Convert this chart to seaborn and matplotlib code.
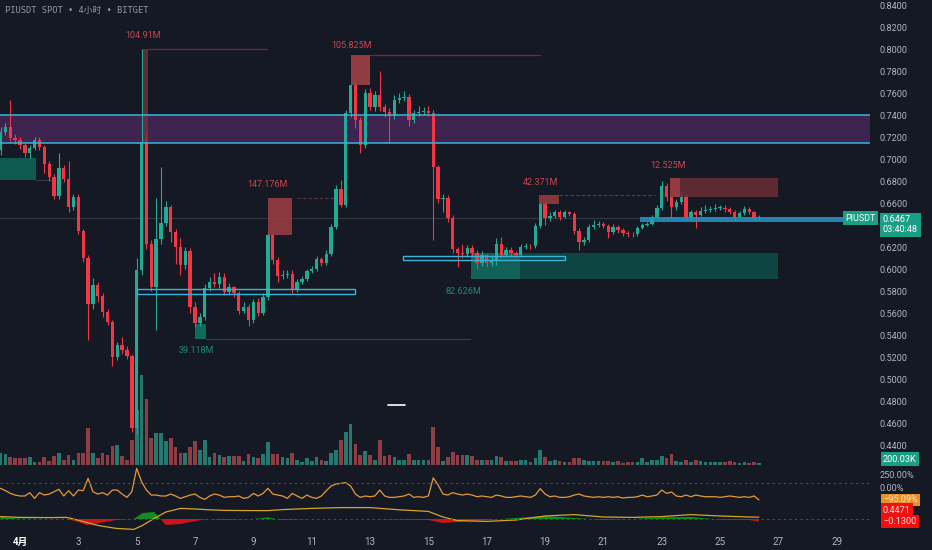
import numpy as np
import matplotlib
matplotlib.use("Agg")
import matplotlib.pyplot as plt
import matplotlib.transforms as mtransforms
from matplotlib.patches import Rectangle
import seaborn as sns

# ===========================================================
# Data (4h candles, first one at Mar 31 08:00; day 1 = Apr 1)
# ===========================================================

first_open = 0.7082

close = [
    0.7245, 0.7291, 0.7191, 0.7173, 0.7127, 0.7055, 0.7100, 0.7173, 0.7109, 0.6955,
    0.6836, 0.6664, 0.6918, 0.6818, 0.6564, 0.6655, 0.6345, 0.6100, 0.5682, 0.5855,
    0.5755, 0.5609, 0.5518, 0.5200, 0.5309, 0.5264, 0.5209, 0.4555, 0.5991, 0.7155,
    0.6227, 0.5836, 0.6273, 0.6418, 0.6564, 0.6336, 0.6200, 0.6036, 0.6164, 0.5655,
    0.5509, 0.5564, 0.5827, 0.5882, 0.5864, 0.5927, 0.5791, 0.5836, 0.5782, 0.5618,
    0.5655, 0.5536, 0.5700, 0.5600, 0.5745, 0.6309, 0.6082, 0.5936, 0.5945, 0.5955,
    0.5809, 0.5882, 0.5909, 0.5982, 0.6000, 0.6091, 0.6055, 0.6136, 0.6382, 0.6727,
    0.6582, 0.7418, 0.7673, 0.7355, 0.7127, 0.7600, 0.7473, 0.7582, 0.7473, 0.7427,
    0.7391, 0.7536, 0.7555, 0.7564, 0.7355, 0.7418, 0.7427, 0.7436, 0.7418, 0.6927,
    0.6636, 0.6645, 0.6464, 0.6182, 0.6145, 0.6136, 0.6191, 0.6145, 0.6055, 0.6127,
    0.6055, 0.6073, 0.6227, 0.6127, 0.6173, 0.6145, 0.6127, 0.6200, 0.6209, 0.6205,
    0.6391, 0.6591, 0.6464, 0.6482, 0.6518, 0.6473, 0.6518, 0.6500, 0.6345, 0.6245,
    0.6264, 0.6382, 0.6400, 0.6409, 0.6391, 0.6336, 0.6382, 0.6355, 0.6327, 0.6318,
    0.6314, 0.6373, 0.6400, 0.6409, 0.6473, 0.6555, 0.6755, 0.6655, 0.6564, 0.6609,
    0.6655, 0.6473, 0.6518, 0.6491, 0.6527, 0.6536, 0.6545, 0.6555, 0.6559, 0.6545,
    0.6518, 0.6473, 0.6509, 0.6545, 0.6518, 0.6464, 0.6467,
]

high = [
    0.7290, 0.7330, 0.7540, 0.7230, 0.7200, 0.7150, 0.7130, 0.7200, 0.7200, 0.7130,
    0.6980, 0.6860, 0.7055, 0.6950, 0.6980, 0.6680, 0.6680, 0.6360, 0.6130, 0.5920,
    0.5880, 0.5780, 0.5640, 0.5540, 0.5340, 0.5380, 0.5300, 0.5230, 0.6100, 0.8000,
    0.7250, 0.6260, 0.6650, 0.6927, 0.6620, 0.6580, 0.6360, 0.6280, 0.6200, 0.6190,
    0.5700, 0.5600, 0.5860, 0.5930, 0.5960, 0.5970, 0.5960, 0.5870, 0.5850, 0.5800,
    0.5700, 0.5680, 0.5730, 0.5740, 0.5780, 0.6340, 0.6330, 0.6110, 0.5990, 0.5990,
    0.5990, 0.5910, 0.5940, 0.6000, 0.6030, 0.6120, 0.6110, 0.6170, 0.6410, 0.6760,
    0.6810, 0.7450, 0.7700, 0.7700, 0.7380, 0.7640, 0.7650, 0.7620, 0.7800, 0.7500,
    0.7460, 0.7580, 0.7600, 0.7620, 0.7590, 0.7450, 0.7480, 0.7470, 0.7480, 0.7450,
    0.6950, 0.6680, 0.6670, 0.6490, 0.6200, 0.6230, 0.6220, 0.6220, 0.6170, 0.6160,
    0.6140, 0.6120, 0.6280, 0.6290, 0.6200, 0.6200, 0.6160, 0.6230, 0.6240, 0.6230,
    0.6420, 0.6620, 0.6610, 0.6520, 0.6540, 0.6540, 0.6540, 0.6530, 0.6520, 0.6370,
    0.6290, 0.6410, 0.6450, 0.6440, 0.6430, 0.6410, 0.6410, 0.6400, 0.6370, 0.6350,
    0.6340, 0.6390, 0.6420, 0.6430, 0.6490, 0.6580, 0.6800, 0.6780, 0.6680, 0.6640,
    0.6700, 0.6680, 0.6540, 0.6540, 0.6560, 0.6580, 0.6570, 0.6590, 0.6580, 0.6580,
    0.6560, 0.6540, 0.6530, 0.6570, 0.6560, 0.6530, 0.6490,
]

low = [
    0.7040, 0.7220, 0.7160, 0.7140, 0.7090, 0.7020, 0.7010, 0.7080, 0.7080, 0.6870,
    0.6800, 0.6640, 0.6640, 0.6790, 0.6520, 0.6540, 0.6320, 0.6060, 0.5355, 0.5640,
    0.5700, 0.5560, 0.5490, 0.5120, 0.5170, 0.5230, 0.5180, 0.4520, 0.4500, 0.5950,
    0.6180, 0.5800, 0.5445, 0.6230, 0.6390, 0.6250, 0.6050, 0.5950, 0.6000, 0.5600,
    0.5470, 0.5480, 0.5540, 0.5800, 0.5840, 0.5830, 0.5760, 0.5770, 0.5750, 0.5590,
    0.5600, 0.5480, 0.5510, 0.5570, 0.5580, 0.5720, 0.6050, 0.5880, 0.5910, 0.5920,
    0.5780, 0.5790, 0.5860, 0.5890, 0.5960, 0.5980, 0.6030, 0.6040, 0.6120, 0.6360,
    0.6560, 0.6560, 0.7380, 0.7280, 0.7055, 0.7100, 0.7450, 0.7440, 0.7440, 0.7380,
    0.7150, 0.7360, 0.7510, 0.7530, 0.7300, 0.7330, 0.7390, 0.7400, 0.7390, 0.6264,
    0.6600, 0.6520, 0.6430, 0.6150, 0.6020, 0.6100, 0.6110, 0.6110, 0.6000, 0.6030,
    0.6020, 0.6030, 0.6040, 0.6100, 0.6110, 0.6120, 0.6100, 0.6110, 0.6180, 0.6180,
    0.6190, 0.6370, 0.6400, 0.6440, 0.6460, 0.6450, 0.6460, 0.6480, 0.6320, 0.6173,
    0.6220, 0.6250, 0.6360, 0.6380, 0.6370, 0.6280, 0.6320, 0.6330, 0.6300, 0.6290,
    0.6290, 0.6300, 0.6360, 0.6390, 0.6400, 0.6460, 0.6540, 0.6620, 0.6470, 0.6540,
    0.6590, 0.6450, 0.6450, 0.6373, 0.6480, 0.6510, 0.6520, 0.6530, 0.6540, 0.6520,
    0.6500, 0.6450, 0.6460, 0.6490, 0.6500, 0.6450, 0.6450,
]

# volume in millions
volume_m = [
    1.2, 1.1, 0.8, 0.7, 0.7, 0.7, 0.8, 0.3, 0.3, 0.8,
    0.4, 0.9, 1.2, 0.5, 1.0, 0.5, 1.2, 1.2, 3.7, 1.2,
    0.7, 1.2, 1.0, 1.9, 2.0, 0.9, 0.5, 2.5, 5.5, 9.0,
    6.6, 2.7, 3.2, 3.2, 2.4, 2.7, 1.8, 1.2, 1.2, 1.8,
    2.4, 1.5, 2.5, 0.8, 1.2, 1.0, 0.8, 0.9, 0.9, 0.9,
    0.4, 1.1, 0.8, 0.7, 1.1, 2.3, 1.1, 1.1, 0.8, 0.7,
    1.2, 0.5, 0.3, 0.7, 0.4, 0.8, 0.5, 0.4, 1.2, 1.5,
    2.5, 3.3, 4.1, 2.1, 1.0, 1.4, 1.0, 0.5, 2.5, 0.9,
    1.0, 0.8, 0.5, 0.5, 1.1, 0.5, 0.5, 0.5, 0.5, 3.8,
    1.8, 0.4, 0.8, 1.3, 1.0, 1.0, 1.0, 0.9, 0.5, 0.5,
    0.5, 0.5, 0.9, 0.8, 0.4, 0.4, 0.4, 0.5, 0.5, 0.3,
    0.7, 1.5, 0.8, 0.4, 0.5, 0.4, 0.3, 0.3, 0.7, 0.7,
    0.5, 0.4, 0.4, 0.4, 0.4, 0.4, 0.3, 0.4, 0.2, 0.3,
    0.3, 0.3, 0.7, 0.3, 0.5, 0.5, 0.9, 0.7, 1.1, 0.4,
    0.3, 0.5, 0.3, 0.5, 0.4, 0.3, 0.3, 0.3, 0.3, 0.3,
    0.4, 0.3, 0.2, 0.3, 0.2, 0.3, 0.20003,
]

# oscillator (%) per candle
osc_pct = [
    65, 32, -5, -28, -41, -41, 5, -74, 5, -28,
    -14, 18, 51, -41, 32, -41, 41, 32, 202, 18,
    -14, 5, -28, 41, 41, -14, -60, 18, 340, 156,
    41, -28, -28, -41, -41, -14, -41, -74, -51, -28,
    -14, -60, -88, -41, -14, -28, -60, -51, -51, -41,
    -74, -60, -5, -41, -5, 65, -14, -28, -41, -74,
    -5, -41, -74, -28, -60, -74, -41, 32, 97, 124,
    134, 143, 97, -14, -60, -41, -51, -41, 41, -41,
    -60, -60, -51, -41, -14, -60, -51, -60, -41, 210,
    110, -14, -28, 5, -14, -28, -14, -28, -51, -41,
    -51, -60, -28, -41, -60, -60, -51, -41, -51, -60,
    -28, 60, -14, -51, -41, -60, -60, -51, -28, -14,
    -41, -51, -60, -51, -60, -51, -60, -51, -70, -60,
    -60, -51, -28, -51, -41, -28, 41, -5, 14, -41,
    -51, -28, -51, -28, -41, -51, -51, -51, -60, -51,
    -41, -51, -60, -51, -60, -41, -95.09,
]

# MACD pane, sampled by day
ind_day = [0.33, 1, 2, 2.6, 3, 3.3, 3.7, 4.3, 4.9, 5.2, 5.6, 6, 6.5, 7, 7.5, 8, 9,
           9.5, 10, 11, 12, 13, 14, 15, 15.5, 16, 17, 18, 19, 20, 21, 22, 23,
           24, 25, 26, 26.33]
macd = [0.12, 0.08, 0.07, 0.08, -0.06, -0.18, -0.33, -0.47, -0.52, -0.32, 0.03,
        0.35, 0.53, 0.50, 0.46, 0.43, 0.42, 0.42, 0.47, 0.53, 0.57, 0.57, 0.46,
        0.38, 0.10, -0.08, -0.12, -0.05, 0.15, 0.22, 0.10, 0.08, 0.12, 0.22,
        0.15, 0.10, 0.09]
macd_hist = [0.10, 0.02, 0.0, 0.0, -0.15, -0.30, -0.20, -0.05, 0.0, 0.30, 0.35,
             -0.30, -0.25, -0.10, 0.0, -0.05, 0.0, 0.08, -0.05, 0.0, 0.0, 0.0,
             -0.03, -0.05, -0.20, -0.15, -0.05, 0.05, 0.15, 0.05, -0.05, 0.0,
             0.08, 0.10, -0.04, -0.05, -0.13]
macd_last = 0.4471
hist_last = -0.1300

day_ticks = [1, 3, 5, 7, 9, 11, 13, 15, 17, 19, 21, 23, 25, 27, 29]
day_labels = ["4月", "3", "5", "7", "9", "11", "13", "15", "17", "19", "21",
              "23", "25", "27", "29"]

# ===========================================================
# Style
# ===========================================================

BG = "#151924"
UP = "#22ab94"
DOWN = "#f23645"
TXT = "#b2b5be"
CYAN = "#3bb3d8"

sns.set_theme(style="dark", rc={"axes.facecolor": BG, "figure.facecolor": BG})
plt.rcParams["font.family"] = ["Roboto", "Noto Sans CJK SC", "DejaVu Sans"]

W, H = 932, 550


def rect(x0, y0, x1, y1):
    return [x0 / W, 1 - y1 / H, (x1 - x0) / W, (y1 - y0) / H]


fig = plt.figure(figsize=(W / 100, H / 100), dpi=100)
axv = fig.add_axes(rect(0, 0, 870, 465))
ax = fig.add_axes(rect(0, 0, 870, 465), sharex=axv)
ax_osc = fig.add_axes(rect(0, 466, 870, 506), sharex=axv)
ax_macd = fig.add_axes(rect(0, 506, 870, 533), sharex=axv)
ax.patch.set_visible(False)

for a in (axv, ax, ax_osc, ax_macd):
    for s in a.spines.values():
        s.set_visible(False)
    a.tick_params(length=0, colors=TXT, labelsize=6.6)
    a.grid(False)

t = 1 / 3 + np.arange(len(close)) / 6
c = np.array(close)
o = np.array([first_open] + close[:-1])
up = c >= o
ccol = np.where(up, UP, DOWN)
vcol = np.where(up, "#25786e", "#8f3d44")

axv.set_xlim(0.314, 30.14)

# ===========================================================
# Volume (overlay at the bottom of the price pane)
# ===========================================================

axv.bar(t, volume_m, width=0.125, color=vcol, linewidth=0)
axv.set_ylim(0, 46.5)
axv.set_yticks([])
axv.tick_params(labelbottom=False)

# ===========================================================
# Price pane
# ===========================================================

ax.set_ylim(0.42182, 0.84455)
ax.yaxis.tick_right()
# 0.6400 sits under the last-price tag, so it is left out
price_ticks = [v for v in np.arange(0.44, 0.8401, 0.02) if abs(v - 0.64) > 1e-6]
ax.set_yticks(price_ticks)
ax.set_yticklabels([f"{v:.4f}" for v in price_ticks])
ax.tick_params(axis="y", pad=7)
ax.tick_params(labelbottom=False)

# supply zone (purple)
ax.axhspan(0.7141, 0.7400, color="#5b2d6e", alpha=0.6, lw=0, zorder=1)
ax.axhline(0.7400, color=CYAN, lw=1.1, zorder=4)
ax.axhline(0.7141, color=CYAN, lw=1.1, zorder=4)

# current price line
ax.axhline(close[-1], color="#3a3f4c", lw=0.6, zorder=1)


def box(x0, x1, y0, y1, fc, alpha=1.0, ec="none", lw=0, z=3):
    ax.add_patch(Rectangle((x0, y0), x1 - x0, y1 - y0, fc=fc, ec=ec, lw=lw,
                           alpha=alpha, zorder=z))


# teal zones
box(0.314, 1.55, 0.6809, 0.7009, "#0f5a50", z=1)
ax.plot([1.55, 2.1], [0.6809, 0.6809], color="#3a4050", lw=0.7, zorder=1)
box(16.46, 26.99, 0.5909, 0.6145, "#0e4a47", alpha=0.9, z=1)
box(16.46, 18.14, 0.5909, 0.6145, "#12655c", alpha=0.9, z=1)
box(7.0, 7.38, 0.5364, 0.5500, "#0f6b5c", z=1)
ax.plot([7.38, 16.43], [0.5364, 0.5364], color="#2a4a4a", lw=0.8, zorder=1)

# candles
ax.vlines(t, low, high, colors=ccol, lw=0.8, zorder=2)
ax.bar(t, np.maximum(np.abs(c - o), 0.0008), bottom=np.minimum(o, c),
       width=0.115, color=ccol, linewidth=0, zorder=2)

# red order blocks
box(5.22, 5.39, 0.7155, 0.8000, "#7a3238", alpha=0.75)
ax.plot([5.39, 9.47], [0.8, 0.8], color="#6e2c34", lw=0.9, zorder=3)
box(12.35, 13.0, 0.7673, 0.7945, "#9e4044", alpha=0.9)
ax.plot([13.0, 18.83], [0.7945, 0.7945], color="#6e2c34", lw=0.9, zorder=3)
box(9.50, 10.33, 0.6309, 0.6645, "#9e3f42", alpha=0.85)
ax.plot([10.5, 11.8], [0.6645, 0.6645], color="#5a3a40", lw=0.8, ls=(0, (3, 2)),
        zorder=3)
box(18.79, 19.48, 0.6591, 0.6673, "#9a3d40", alpha=0.85)
ax.plot([19.48, 22.77], [0.6673, 0.6673], color="#6a3840", lw=0.8, ls=(0, (3, 2)),
        zorder=3)
box(23.28, 26.99, 0.6655, 0.6827, "#6a2e36", alpha=0.85)
box(23.28, 23.63, 0.6655, 0.6827, "#9a3d42", alpha=0.9)

# demand rectangles (cyan)
box(5.01, 12.48, 0.5773, 0.5818, "none", ec=CYAN, lw=1.0, z=4)
box(14.13, 19.68, 0.6082, 0.6118, "none", ec=CYAN, lw=1.0, z=4)
box(22.25, 29.2, 0.6427, 0.6473, "#2496c4", alpha=0.85, z=4)

# small white mark
ax.plot([13.6, 14.2], [0.4764, 0.4764], color="white", lw=1.2, zorder=4)

red_txt = "#c9474f"
teal_txt = "#1e8a78"
for x, y, s, col in [(5.22, 0.8127, "104.91M", red_txt),
                     (12.38, 0.8036, "105.825M", red_txt),
                     (9.50, 0.6764, "147.176M", red_txt),
                     (18.83, 0.6782, "42.371M", red_txt),
                     (23.21, 0.6945, "12.525M", red_txt),
                     (7.03, 0.5255, "39.118M", teal_txt),
                     (16.19, 0.5800, "82.626M", teal_txt)]:
    ax.text(x, y, s, color=col, fontsize=6.5, ha="center", va="center", zorder=5)

# last price labels
trans = mtransforms.blended_transform_factory(ax.transAxes, ax.transData)
ax.text(1.0069, close[-1] - 0.0005, "PIUSDT", transform=trans, ha="right",
        va="center", fontsize=6.5, color="white", zorder=6, clip_on=False,
        bbox=dict(boxstyle="square,pad=0.25", fc="#1a9e85", ec="none"))
ax.text(1.0149, close[-1] - 0.0065, "0.6467\n03:40:48", transform=trans,
        ha="left", va="center", fontsize=6.6, color="white", linespacing=1.15,
        zorder=6, clip_on=False,
        bbox=dict(boxstyle="square,pad=0.3", fc="#1a9e85", ec="none"))

fig.text(883 / W, 1 - 459 / H, "200.03K", ha="left", va="center", fontsize=6.6,
         color="white", bbox=dict(boxstyle="square,pad=0.25", fc="#1a9e85",
                                  ec="none"))

fig.text(5 / W, 1 - 11 / H, "PIUSDT SPOT • 4小时 • BITGET",
         family=["DejaVu Sans Mono", "Noto Sans CJK SC"], fontsize=6.3,
         color="#9598a1", va="center")

# ===========================================================
# Oscillator pane
# ===========================================================

sns.lineplot(x=t, y=osc_pct, ax=ax_osc, color="#e39a3b", lw=0.9)
ax_osc.set_ylim(-179, 372.6)
ax_osc.axhline(140, color="#4a4e5a", lw=0.8, ls=(0, (2, 3)))
ax_osc.yaxis.tick_right()
ax_osc.set_yticks([0, 250])
ax_osc.set_yticklabels(["0.00%", "250.00%"])
ax_osc.tick_params(axis="y", pad=7)
ax_osc.tick_params(labelbottom=False)
# keep the 0.00% label just above the orange value tag
ax_osc.get_yticklabels()[0].set_va("bottom")
ax_osc.set_ylabel("")
ax_osc.text(1.0149, osc_pct[-1], "−95.09%",
            transform=mtransforms.blended_transform_factory(ax_osc.transAxes,
                                                            ax_osc.transData),
            ha="left", va="center", fontsize=6.6, color="#fde2b8", clip_on=False,
            zorder=6, bbox=dict(boxstyle="square,pad=0.2", fc="#e8902a", ec="none"))

# ===========================================================
# MACD pane
# ===========================================================

h = np.array(macd_hist)
ax_macd.fill_between(ind_day, 0, h, where=h >= 0, color="#139a1f", lw=0,
                     interpolate=True, alpha=0.9)
ax_macd.fill_between(ind_day, 0, h, where=h <= 0, color="#e3141a", lw=0,
                     interpolate=True, alpha=0.9)
sns.lineplot(x=ind_day, y=macd, ax=ax_macd, color="#d4a62a", lw=0.9)
ax_macd.axhline(0, color="#4a4e5a", lw=0.8, ls=(0, (2, 3)))
ax_macd.set_ylim(-0.7, 0.65)
ax_macd.set_yticks([])
ax_macd.set_ylabel("")
tr_m = mtransforms.blended_transform_factory(ax_macd.transAxes, ax_macd.transData)
for val in (macd_last, hist_last):
    ax_macd.text(1.0149, val, f"{val:.4f}".replace("-", "−"), transform=tr_m,
                 ha="left", va="center", fontsize=6.6, color="#ffd6d6",
                 clip_on=False, zorder=6,
                 bbox=dict(boxstyle="square,pad=0.25", fc="#f01010", ec="none"))

ax_macd.set_xticks(day_ticks)
ax_macd.set_xticklabels(day_labels)
ax_macd.tick_params(axis="x", pad=3, labelsize=7, colors=TXT)
ax_macd.get_xticklabels()[0].set_color("white")
ax_macd.get_xticklabels()[0].set_fontweight("bold")
ax_macd.set_xlim(0.314, 30.14)

fig.savefig("out.png", dpi=100, facecolor=BG)
